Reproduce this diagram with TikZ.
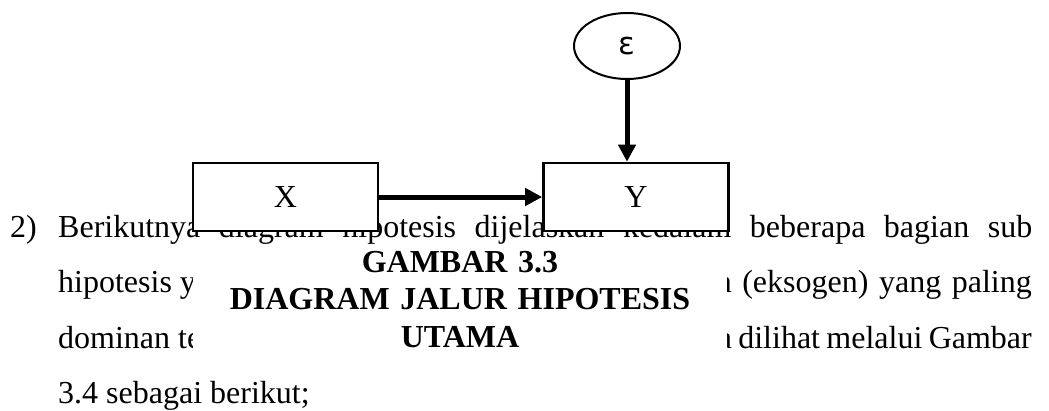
\documentclass[tikz,border=0pt]{standalone}
\usepackage{fontspec}
\setmainfont{Liberation Serif}
\newfontfamily\epsfont{DejaVu Sans}
\usetikzlibrary{arrows.meta,shapes.geometric}
\newcommand{\bodyfont}{\fontsize{32}{55}\selectfont}
\newcommand{\capfont}{\fontsize{32}{37.5}\selectfont\bfseries}
\tikzset{
    body/.style={font=\bodyfont,inner sep=0pt},
    capbox/.style={rectangle,fill=white,inner xsep=0pt,inner ysep=5pt,align=center,
        text width=534pt,font=\capfont},
    var/.style={rectangle,draw=black,line width=2.6pt,fill=white,minimum width=185pt,
        minimum height=68pt,inner sep=0pt,font=\bodyfont},
    err/.style={ellipse,draw=black,line width=2pt,fill=white,minimum width=106pt,
        minimum height=66pt,inner sep=0pt,font=\fontsize{31}{31}\selectfont\epsfont},
    arr/.style={-{Triangle[length=17pt,width=17pt]},line width=5pt}
}

\begin{document}
\begin{tikzpicture}[x=1pt,y=-1pt]
    \useasboundingbox (0,0) rectangle (1049,410);

    % paragraph behind the figure
    \node[body,anchor=base west] (num)    at (10,237)  {2)};
    \node[body,anchor=base west] (line1)  at (58,237)  {\makebox[974pt][s]{Berikutnya diagram hipotesis dijelaskan kedalam beberapa bagian sub}};
    \node[body,anchor=base west] (line2a) at (58,292)  {hipotesis y};
    \node[body,anchor=base east] (line2b) at (1032,292) {\makebox[316pt][s]{n (eksogen) yang paling}};
    \node[body,anchor=base west] (line3a) at (58,348)  {dominan te};
    \node[body,anchor=base east] (line3b) at (1032,348) {\makebox[314pt][s]{a dilihat melalui Gambar}};
    \node[body,anchor=base west] (line4)  at (58,403)  {3.4 sebagai berikut;};

    % caption
    \node[capbox,anchor=north] (cap) at (460,246) {GAMBAR 3.3\\DIAGRAM JALUR HIPOTESIS\\UTAMA};

    % path diagram
    \node[var] (X)   at (285.5,197) {X};
    \node[var] (Y)   at (636,197)   {Y};
    \node[err] (eps) at (627,46)    {ε};

    \draw[arr] (X) -- (Y);
    \draw[arr] (eps) -- (eps |- Y.north);
\end{tikzpicture}
\end{document}
